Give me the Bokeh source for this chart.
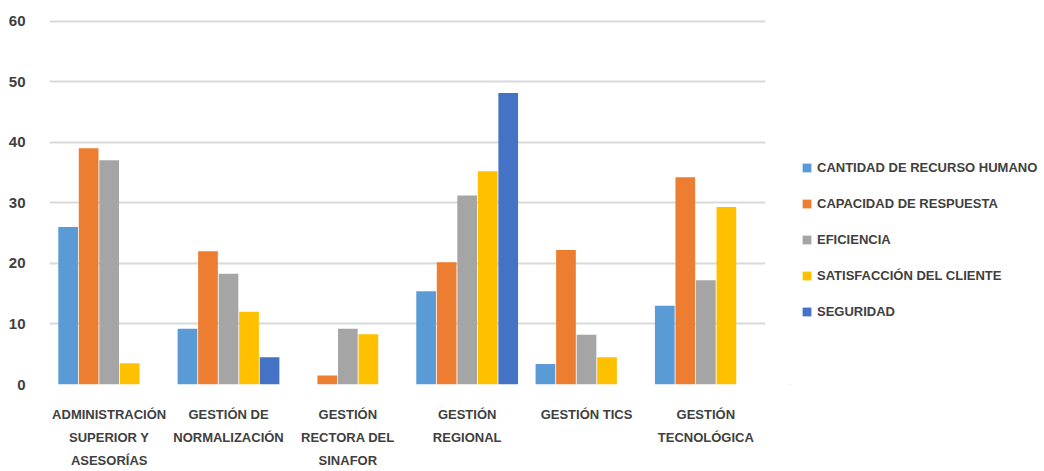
from bokeh.plotting import figure
from bokeh.models import ColumnDataSource, FactorRange, Range1d, FixedTicker, Legend, LegendItem
from bokeh.layouts import row
from bokeh.transform import dodge
from bokeh.embed import file_html
from bokeh.resources import INLINE

categories = ["ADMINISTRACIÓN\nSUPERIOR Y\nASESORÍAS", "GESTIÓN DE\nNORMALIZACIÓN",
              "GESTIÓN\nRECTORA DEL\nSINAFOR", "GESTIÓN\nREGIONAL", "GESTIÓN TICS",
              "GESTIÓN\nTECNOLÓGICA"]
series_names = ["CANTIDAD DE RECURSO HUMANO", "CAPACIDAD DE RESPUESTA", "EFICIENCIA",
                "SATISFACCIÓN DEL CLIENTE", "SEGURIDAD"]
recurso_humano = [26, 9.2, 0, 15.4, 3.4, 13]
capacidad = [39, 22, 1.5, 20.2, 22.2, 34.2]
eficiencia = [37, 18.3, 9.2, 31.2, 8.2, 17.2]
satisfaccion = [3.5, 12, 8.3, 35.2, 4.5, 29.3]
seguridad = [0, 4.5, 0, 48.1, 0, 0]
y_ticks = [0, 10, 20, 30, 40, 50, 60]

colors = ["#5B9BD5", "#ED7D31", "#A5A5A5", "#FFC000", "#4472C4"]
keys = ["s0", "s1", "s2", "s3", "s4"]

source = ColumnDataSource(dict(cat=categories, s0=recurso_humano, s1=capacidad,
                               s2=eficiencia, s3=satisfaccion, s4=seguridad))

p = figure(width=790, height=471, x_range=FactorRange(*categories, range_padding=0),
           y_range=Range1d(0, 60.25), output_backend="svg", toolbar_location=None,
           min_border_left=49, min_border_right=25, min_border_top=19, min_border_bottom=82)
p.outline_line_color = None

step = 0.172
for i, (k, c) in enumerate(zip(keys, colors)):
    p.vbar(x=dodge("cat", (i - 2) * step, range=p.x_range), top=k, width=0.165,
           bottom=0, source=source, fill_color=c, line_color=None)

p.yaxis.ticker = FixedTicker(ticks=y_ticks)
p.yaxis.axis_line_color = None
p.yaxis.major_tick_line_color = None
p.yaxis.minor_tick_line_color = None
p.yaxis.major_label_standoff = 18
p.yaxis.major_label_text_font = "Liberation Sans"
p.yaxis.major_label_text_font_style = "bold"
p.yaxis.major_label_text_font_size = "15px"
p.yaxis.major_label_text_color = "#404040"

p.xaxis.axis_line_color = None
p.xaxis.major_tick_line_color = None
p.xaxis.minor_tick_line_color = None
p.xaxis.major_label_standoff = 16
p.xaxis.major_label_text_font = "Liberation Sans"
p.xaxis.major_label_text_font_style = "bold"
p.xaxis.major_label_text_font_size = "13px"
p.xaxis.major_label_text_color = "#404040"
p.xaxis.major_label_text_line_height = 1.55

p.xgrid.grid_line_color = None
p.ygrid.grid_line_color = "#D9D9D9"
p.ygrid.grid_line_width = 2

# legend panel
lp = figure(width=254, height=471, output_backend="svg", toolbar_location=None,
            min_border=0, x_axis_type=None, y_axis_type=None,
            x_range=Range1d(0, 1), y_range=Range1d(0, 1))
lp.outline_line_color = None
lp.grid.grid_line_color = None
hidden = ColumnDataSource(dict(x=[-10], top=[-10]))
items = []
for c, name in zip(colors, series_names):
    r = lp.vbar(x="x", top="top", bottom=-11, width=0.1, source=hidden, fill_color=c, line_color=None)
    items.append(LegendItem(label=name, renderers=[r]))

legend = Legend(items=items, location=(11, 65), orientation="vertical")
legend.border_line_color = None
legend.background_fill_alpha = 0
legend.padding = 0
legend.margin = 0
legend.glyph_width = 11
legend.glyph_height = 11
legend.label_height = 11
legend.spacing = 21
legend.label_standoff = 5
legend.label_text_font = "Liberation Sans"
legend.label_text_font_style = "bold"
legend.label_text_font_size = "13px"
legend.label_text_color = "#404040"
lp.add_layout(legend, "center")

layout = row(p, lp)
open("out.html", "w").write(file_html(layout, INLINE))
